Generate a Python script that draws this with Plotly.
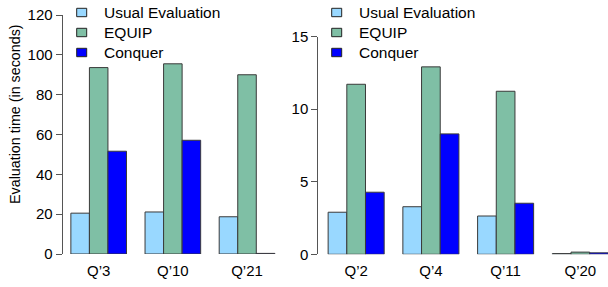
import plotly.graph_objects as go

W, H = 608, 287

left_cats = ["Q’3", "Q’10", "Q’21"]
left_usual = [20.5, 21.1, 18.7]
left_equip = [93.6, 95.5, 90.0]
left_conquer = [51.6, 57.1, 0.3]

right_cats = ["Q’2", "Q’4", "Q’11", "Q’20"]
right_usual = [2.9, 3.28, 2.64, 0.05]
right_equip = [11.72, 12.92, 11.24, 0.15]
right_conquer = [4.28, 8.3, 3.52, 0.1]

series_names = ["Usual Evaluation", "EQUIP", "Conquer"]
colors = ["#99D8FF", "#7FBFA5", "#0000FF"]
edge = "#3a3a3a"
FONT = "Liberation Sans, Arial, Helvetica, sans-serif"

fig = go.Figure()
for name, vals, col in zip(series_names, [left_usual, left_equip, left_conquer], colors):
    fig.add_trace(go.Bar(x=left_cats, y=vals, name=name, marker=dict(color=col, line=dict(color=edge, width=1)),
                         xaxis="x", yaxis="y", showlegend=False))
for name, vals, col in zip(series_names, [right_usual, right_equip, right_conquer], colors):
    fig.add_trace(go.Bar(x=right_cats, y=vals, name=name, marker=dict(color=col, line=dict(color=edge, width=1)),
                         xaxis="x2", yaxis="y2", showlegend=False))

def px(p):
    return p / W

def py(p):
    return 1 - p / H

axis_common = dict(tickfont=dict(family=FONT, size=15, color="#000"))

# manual legends (one per panel)
shapes = []
annotations = []
row_centers = [12.5, 32.5, 52.5]
for x0 in [76.7, 331.7]:
    for name, col, yc in zip(series_names, colors, row_centers):
        shapes.append(dict(type="rect", xref="paper", yref="paper",
                           x0=px(x0), x1=px(x0 + 10), y0=py(yc + 4.2), y1=py(yc - 4.2),
                           fillcolor=col, line=dict(color="#222", width=1)))
        annotations.append(dict(text=name, x=px(x0 + 25.5), y=py(yc), xref="paper", yref="paper",
                                xanchor="left", yanchor="middle", showarrow=False,
                                font=dict(family=FONT, size=15.5, color="#000")))

annotations.append(dict(text="Evaluation time (in seconds)", textangle=-90, x=px(15), y=py(114),
                        xanchor="center", yanchor="middle",
                        xref="paper", yref="paper", showarrow=False, font=dict(family=FONT, size=14.3)))

fig.update_layout(
    width=W, height=H,
    margin=dict(l=0, r=0, t=0, b=0, autoexpand=False),
    paper_bgcolor="white", plot_bgcolor="white",
    barmode="group", bargap=0.25, bargroupgap=0,
    font=dict(family=FONT, size=15, color="#000"),
    xaxis=dict(domain=[px(61.6), px(284.1)], range=[-0.5, 2.5], type="category", anchor="y",
               showline=False, showgrid=False, zeroline=False, ticks="", ticklabelstandoff=6,
               automargin=False, **axis_common),
    yaxis=dict(domain=[py(254), py(15)], range=[0, 120], anchor="free", position=px(61.6),
               tickvals=[0, 20, 40, 60, 80, 100, 120], showline=True, linecolor="#555", linewidth=1,
               ticks="outside", ticklen=6, tickcolor="#555", showgrid=False, zeroline=False,
               automargin=False, **axis_common),
    xaxis2=dict(domain=[px(317.3), 1], range=[-0.52, 3.37], type="category", anchor="y2",
                showline=False, showgrid=False, zeroline=False, ticks="", ticklabelstandoff=6,
                automargin=False, **axis_common),
    yaxis2=dict(domain=[py(254.3), py(36.7)], range=[0, 15], anchor="free", position=px(317.3),
                tickvals=[0, 5, 10, 15], showline=True, linecolor="#555", linewidth=1,
                ticks="outside", ticklen=6, tickcolor="#555", showgrid=False, zeroline=False,
                automargin=False, **axis_common),
    shapes=shapes,
    annotations=annotations,
)

fig.write_html("out.html", config={"displayModeBar": False},
               post_script="document.body.style.margin='0';document.body.style.overflow='hidden';")
